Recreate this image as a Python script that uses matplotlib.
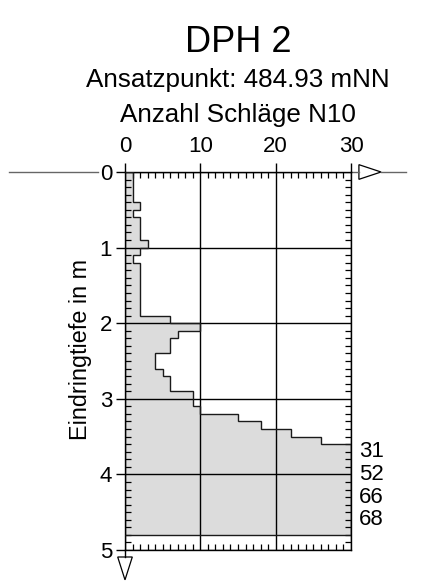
import numpy as np
import matplotlib
matplotlib.use('Agg')
import matplotlib.pyplot as plt
from matplotlib.patches import Polygon
from matplotlib.lines import Line2D
from matplotlib.ticker import MultipleLocator

plt.rcParams['font.family'] = ['Liberation Sans', 'DejaVu Sans']

title = 'DPH 2'
subtitle = 'Ansatzpunkt: 484.93 mNN'
xlabel = 'Anzahl Schläge N10'
ylabel = 'Eindringtiefe in m'

# blows per 10 cm, from 0.0 m down to 4.8 m
blows = [1, 1, 1, 1, 2, 1, 2, 2, 2, 3,
         2, 1, 2, 2, 2, 2, 2, 2, 2, 6,
         10, 7, 6, 6, 4, 4, 5, 6, 6, 9,
         9, 10, 15, 18, 22, 26, 31, 40, 47, 52,
         56, 61, 66, 64, 67, 68, 70, 72]
step = 0.1
x_max = 30
depth_max = 5

edges = np.round(np.arange(len(blows) + 1) * step, 2)
shown = np.minimum(blows, x_max)

fig = plt.figure(figsize=(4.23, 5.82), dpi=100)
ax = fig.add_axes([125 / 423, 1 - 550 / 582, 226 / 423, 378 / 582])

ax.stairs(shown, edges, orientation='horizontal', fill=True, color='#dcdcdc', zorder=1)
ax.stairs(shown, edges, orientation='horizontal', fill=False, color='#1a1a1a', lw=1.0, zorder=3)

ax.set_xlim(0, x_max)
ax.set_ylim(depth_max, 0)
ax.xaxis.set_major_locator(MultipleLocator(10))
ax.xaxis.set_minor_locator(MultipleLocator(1))
ax.yaxis.set_major_locator(MultipleLocator(1))
ax.yaxis.set_minor_locator(MultipleLocator(0.1))
ax.xaxis.tick_top()
ax.grid(True, which='major', color='black', lw=1)
ax.set_axisbelow(False)

ax.tick_params(axis='x', which='major', top=True, bottom=False, direction='out',
               length=6.3, width=1, labelsize=16, pad=4.7)
ax.tick_params(axis='x', which='minor', top=True, bottom=True, direction='in',
               length=4.6, width=0.9)
ax.tick_params(axis='y', which='major', left=True, right=False, direction='out',
               length=6.3, width=1, labelsize=16, pad=2.9)
ax.tick_params(axis='y', which='minor', left=True, right=True, direction='in',
               length=4.6, width=0.9)
for s in ax.spines.values():
    s.set_linewidth(1)

# values beyond the scale, written on the right (every 30 cm)
over = [i for i, v in enumerate(blows) if v > x_max]
for i in over[::3]:
    ax.annotate(str(blows[i]), xy=(1, edges[i + 1]), xycoords=('axes fraction', 'data'),
                xytext=(5.5, 0), textcoords='offset points', ha='left', va='center',
                fontsize=16)

# start-point line with arrows
tr = ax.transAxes
ax.add_line(Line2D([-0.513, -0.119], [1, 1], transform=tr, color='#666666', lw=1, clip_on=False))
ax.add_line(Line2D([1.0, 1.035], [1, 1], transform=tr, color='#666666', lw=1, clip_on=False))
ax.add_line(Line2D([1.133, 1.243], [1, 1], transform=tr, color='#666666', lw=1, clip_on=False))
ax.add_patch(Polygon([[1.035, 1.0194], [1.035, 0.9806], [1.133, 1.0]], closed=True,
                     transform=tr, facecolor='white', edgecolor='black', lw=0.9, clip_on=False))
ax.add_line(Line2D([0, 0], [0, -0.0185], transform=tr, color='black', lw=1, clip_on=False))
ax.add_patch(Polygon([[-0.0323, -0.0185], [0.0323, -0.0185], [0, -0.079]], closed=True,
                     transform=tr, facecolor='white', edgecolor='black', lw=0.9, clip_on=False))

cx = 238 / 423
fig.text(cx, 1 - 52 / 582, title, ha='center', va='baseline', fontsize=26)
fig.text(cx, 1 - 87 / 582, subtitle, ha='center', va='baseline', fontsize=18.7)
fig.text(cx, 1 - 122 / 582, xlabel, ha='center', va='baseline', fontsize=18.7)
fig.text(80 / 423, 1 - 350 / 582, ylabel, rotation=90, ha='center', va='center', fontsize=16.8)

fig.savefig('out.png', dpi=100)
